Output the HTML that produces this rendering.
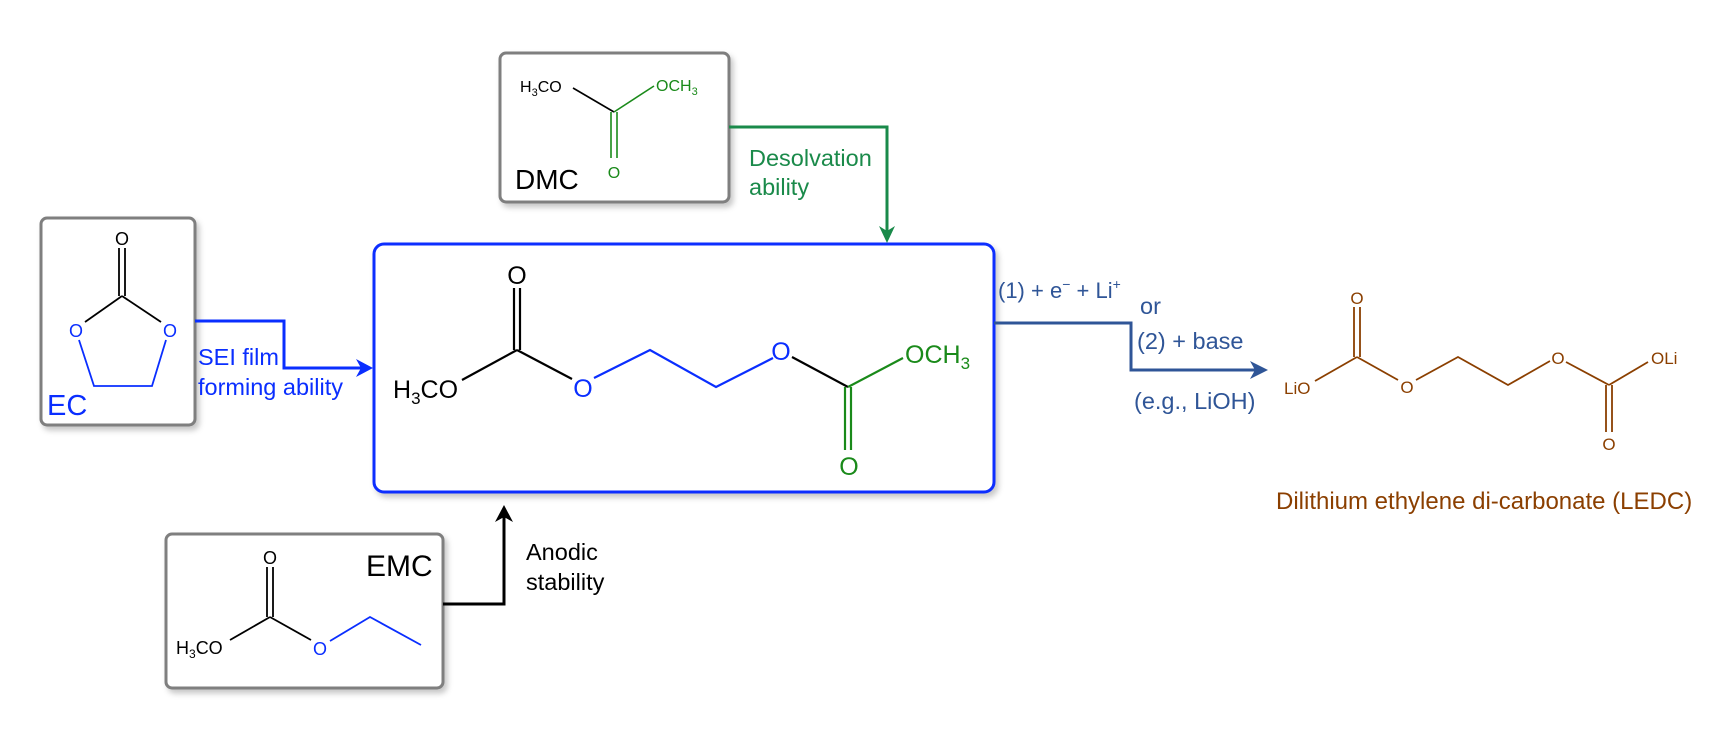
<!DOCTYPE html>
<html><head><meta charset="utf-8"><style>
html,body{margin:0;padding:0;background:#fff;}
svg{display:block;font-family:"Liberation Sans",Arial,sans-serif;}
</style></head><body>
<svg width="1725" height="744" viewBox="0 0 1725 744" xmlns="http://www.w3.org/2000/svg">
<defs>
<filter id="sh" x="-10%" y="-10%" width="130%" height="130%"><feDropShadow dx="3" dy="4" stdDeviation="3" flood-color="#000" flood-opacity="0.22"/></filter>
</defs>
<!-- boxes -->
<rect x="41" y="218" width="154" height="207" rx="6" fill="#fff" stroke="#7f7f7f" stroke-width="3" filter="url(#sh)"/>
<rect x="500" y="53" width="229" height="149" rx="6" fill="#fff" stroke="#7f7f7f" stroke-width="3" filter="url(#sh)"/>
<rect x="166" y="534" width="277" height="154" rx="6" fill="#fff" stroke="#7f7f7f" stroke-width="3" filter="url(#sh)"/>
<rect x="374" y="244" width="620" height="248" rx="10" fill="#fff" stroke="#0a2eff" stroke-width="3" filter="url(#sh)"/>

<!-- connectors -->
<polyline points="729,127 887,127 887,236" fill="none" stroke="#1a8a4a" stroke-width="3"/>
<polygon points="879,226 887,243 895,226 887,231" fill="#1a8a4a"/>
<polyline points="195,321 284,321 284,368 366,368" fill="none" stroke="#0a2eff" stroke-width="3"/>
<polygon points="356,359 373,368 356,377 361,368" fill="#0a2eff"/>
<polyline points="443,604 504,604 504,512" fill="none" stroke="#000" stroke-width="3"/>
<polygon points="495,522 504,505 513,522 504,517" fill="#000"/>
<polyline points="994,323 1131,323 1131,370 1260,370" fill="none" stroke="#2f5597" stroke-width="3"/>
<polygon points="1250,361 1268,370 1250,379 1255,370" fill="#2f5597"/>

<!-- labels -->
<g font-size="23.5">
<text x="749" y="166" fill="#1a8a4a">Desolvation</text>
<text x="749" y="195" fill="#1a8a4a">ability</text>
<text x="198" y="365" fill="#0a2eff">SEI film</text>
<text x="198" y="395" fill="#0a2eff">forming ability</text>
<text x="526" y="560" fill="#000">Anodic</text>
<text x="526" y="590" fill="#000">stability</text>
<text x="998" y="298" fill="#2f5597" font-size="22">(1) + e<tspan font-size="14" dy="-9">−</tspan><tspan dy="9"> + Li</tspan><tspan font-size="14" dy="-9">+</tspan></text>
<text x="1140" y="314" fill="#2f5597">or</text>
<text x="1137" y="349" fill="#2f5597">(2) + base</text>
<text x="1134" y="409" fill="#2f5597">(e.g., LiOH)</text>
<text x="1276" y="509" fill="#8b3f00" font-size="24">Dilithium ethylene di-carbonate (LEDC)</text>
</g>
<text x="47" y="415" font-size="29" fill="#0a2eff">EC</text>
<text x="515" y="189" font-size="28" fill="#000">DMC</text>
<text x="366" y="576" font-size="30" fill="#000">EMC</text>

<!-- EC molecule -->
<g stroke-width="1.8" fill="none">
<line x1="119" y1="248" x2="119" y2="296" stroke="#000"/><line x1="125" y1="248" x2="125" y2="296" stroke="#000"/>
<line x1="122" y1="296" x2="85" y2="322" stroke="#000"/>
<line x1="122" y1="296" x2="161" y2="322" stroke="#000"/>
<polyline points="79,340 94,386 152,386 166,340" stroke="#0a2eff"/>
</g>
<g font-size="18" text-anchor="middle">
<text x="122" y="245" fill="#000">O</text>
<text x="76" y="337" fill="#0a2eff">O</text>
<text x="170" y="337" fill="#0a2eff">O</text>
</g>

<!-- DMC molecule -->
<g stroke-width="1.6" fill="none">
<line x1="573" y1="88" x2="614" y2="112" stroke="#000"/>
<line x1="614" y1="112" x2="654" y2="86" stroke="#1a8a1a"/>
<line x1="611" y1="112" x2="611" y2="158" stroke="#1a8a1a"/><line x1="617" y1="112" x2="617" y2="158" stroke="#1a8a1a"/>
</g>
<g font-size="16">
<text x="520" y="92" fill="#000">H<tspan font-size="11" dy="4">3</tspan><tspan dy="-4">CO</tspan></text>
<text x="656" y="91" fill="#1a8a1a">OCH<tspan font-size="11" dy="4">3</tspan></text>
<text x="614" y="178" fill="#1a8a1a" text-anchor="middle">O</text>
</g>

<!-- main molecule -->
<g stroke-width="2.2" fill="none">
<line x1="514" y1="288" x2="514" y2="350" stroke="#000"/><line x1="520" y1="288" x2="520" y2="350" stroke="#000"/>
<line x1="517" y1="350" x2="462" y2="380" stroke="#000"/>
<line x1="517" y1="350" x2="572" y2="379" stroke="#000"/>
<polyline points="594,378 650,350 716,387 773,358" stroke="#0a2eff"/>
<line x1="792" y1="357" x2="848" y2="387" stroke="#000"/>
<line x1="848" y1="387" x2="903" y2="358" stroke="#1a8a1a"/>
<line x1="845" y1="387" x2="845" y2="450" stroke="#1a8a1a"/><line x1="851" y1="387" x2="851" y2="450" stroke="#1a8a1a"/>
</g>
<g font-size="25">
<text x="517" y="284" fill="#000" text-anchor="middle">O</text>
<text x="393" y="398" fill="#000">H<tspan font-size="17" dy="6">3</tspan><tspan dy="-6">CO</tspan></text>
<text x="583" y="397" fill="#0a2eff" text-anchor="middle">O</text>
<text x="781" y="360" fill="#0a2eff" text-anchor="middle">O</text>
<text x="905" y="363" fill="#1a8a1a">OCH<tspan font-size="17" dy="6">3</tspan></text>
<text x="849" y="475" fill="#1a8a1a" text-anchor="middle">O</text>
</g>

<!-- EMC molecule -->
<g stroke-width="1.8" fill="none">
<line x1="267" y1="567" x2="267" y2="617" stroke="#000"/><line x1="273" y1="567" x2="273" y2="617" stroke="#000"/>
<line x1="270" y1="617" x2="230" y2="640" stroke="#000"/>
<line x1="270" y1="617" x2="311" y2="640" stroke="#000"/>
<polyline points="330,641 370,617 421,645" stroke="#0a2eff"/>
</g>
<g font-size="18">
<text x="270" y="564" fill="#000" text-anchor="middle">O</text>
<text x="176" y="654" fill="#000">H<tspan font-size="12" dy="4">3</tspan><tspan dy="-4">CO</tspan></text>
<text x="320" y="655" fill="#0a2eff" text-anchor="middle">O</text>
</g>

<!-- LEDC molecule -->
<g stroke="#8b3f00" stroke-width="1.8" fill="none">
<line x1="1354" y1="307" x2="1354" y2="357"/><line x1="1360" y1="307" x2="1360" y2="357"/>
<line x1="1357" y1="357" x2="1315" y2="381"/>
<line x1="1357" y1="357" x2="1398" y2="380"/>
<polyline points="1416,380 1458,357 1508,385 1550,361"/>
<line x1="1566" y1="362" x2="1609" y2="385"/>
<line x1="1609" y1="385" x2="1648" y2="362"/>
<line x1="1606" y1="385" x2="1606" y2="432"/><line x1="1612" y1="385" x2="1612" y2="432"/>
</g>
<g font-size="17" fill="#8b3f00">
<text x="1357" y="304" text-anchor="middle">O</text>
<text x="1284" y="394">LiO</text>
<text x="1407" y="393" text-anchor="middle">O</text>
<text x="1558" y="364" text-anchor="middle">O</text>
<text x="1651" y="364">OLi</text>
<text x="1609" y="450" text-anchor="middle">O</text>
</g>
</svg>
</body></html>
